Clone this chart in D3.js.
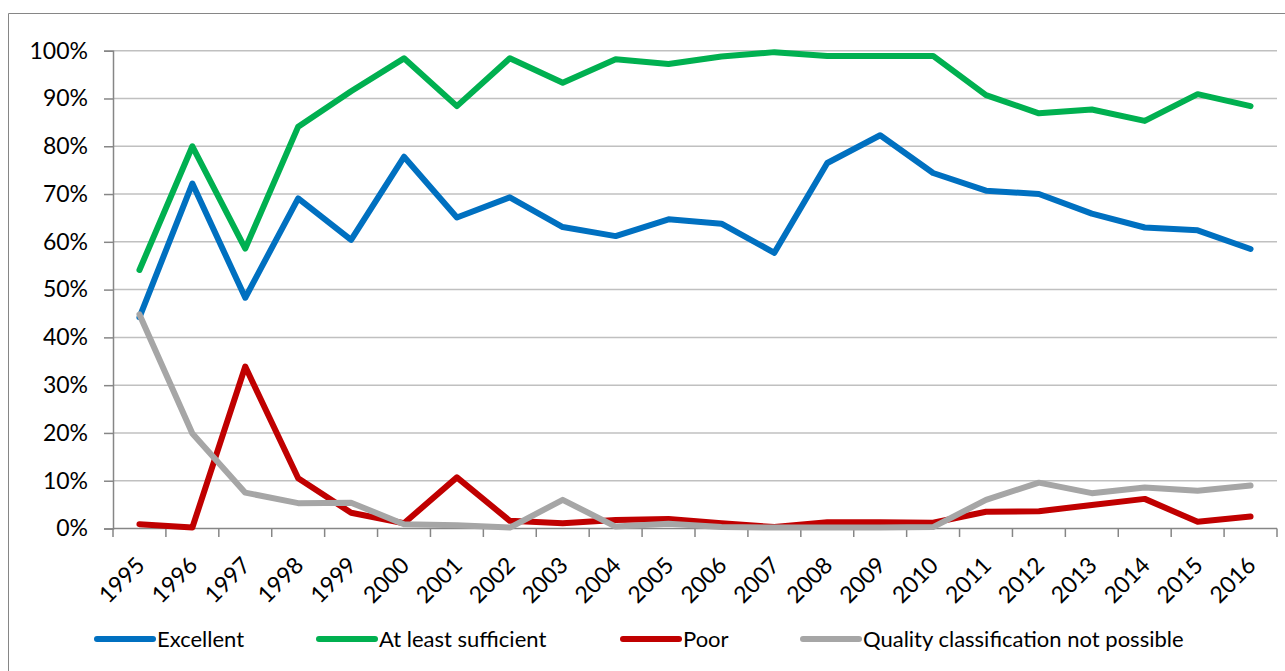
<!DOCTYPE html>
<html>
<head>
<meta charset="utf-8">
<script src="https://cdn.jsdelivr.net/npm/d3@7"></script>
<style>
  html, body { margin: 0; padding: 0; background: #fff; }
  svg { display: block; }
  text { font-family: Lato, "Open Sans", sans-serif; fill: #000; }
</style>
</head>
<body>
<svg id="chart" width="1285" height="671"></svg>
<script>
const years = ["1995","1996","1997","1998","1999","2000","2001","2002","2003","2004","2005",
               "2006","2007","2008","2009","2010","2011","2012","2013","2014","2015","2016"];
const excellent = [44.2, 72.2, 48.3, 69.1, 60.4, 77.8, 65.1, 69.3, 63.1, 61.2, 64.7,
                   63.8, 57.7, 76.5, 82.3, 74.4, 70.7, 70.0, 65.9, 63.0, 62.4, 58.5];
const sufficient = [54.1, 80.0, 58.6, 84.1, 91.5, 98.4, 88.4, 98.4, 93.3, 98.2, 97.2,
                    98.8, 99.7, 98.9, 98.9, 98.9, 90.7, 86.9, 87.7, 85.3, 90.9, 88.4];
const poor = [0.9, 0.2, 33.9, 10.5, 3.3, 1.1, 10.7, 1.6, 1.1, 1.8, 2.0,
              1.1, 0.3, 1.3, 1.3, 1.2, 3.5, 3.6, 4.9, 6.2, 1.4, 2.5];
const notPossible = [44.8, 19.9, 7.5, 5.3, 5.4, 0.9, 0.7, 0.2, 6.0, 0.4, 1.0,
                     0.3, 0.2, 0.2, 0.2, 0.3, 6.0, 9.6, 7.4, 8.6, 7.9, 9.0];
const yTicks = [0, 10, 20, 30, 40, 50, 60, 70, 80, 90, 100];
const seriesNames = ["Excellent", "At least sufficient", "Poor", "Quality classification not possible"];
const seriesColors = ["#0070C0", "#00B050", "#C00000", "#A6A6A6"];
const seriesValues = [excellent, sufficient, poor, notPossible];

const svg = d3.select("#chart");
const AXIS_FONT = 23;
const LEG_FONT = 22;

// outer chart frame (only left and top edges visible)
svg.append("line").attr("x1", 8.5).attr("x2", 8.5).attr("y1", 13.5).attr("y2", 671)
  .attr("stroke", "#868686").attr("stroke-width", 1);
svg.append("line").attr("x1", 8.5).attr("x2", 1285).attr("y1", 13.5).attr("y2", 13.5)
  .attr("stroke", "#868686").attr("stroke-width", 1);

const x = d3.scaleBand().domain(years).range([113, 1277]).padding(0);
const y = d3.scaleLinear().domain([0, 100]).range([528.5, 50.7]);
const cx = d => x(d) + x.bandwidth() / 2;

// gridlines
svg.append("g").selectAll("line").data(yTicks.filter(t => t > 0)).join("line")
  .attr("x1", 113).attr("x2", 1277)
  .attr("y1", d => y(d)).attr("y2", d => y(d))
  .attr("stroke", "#C0C0C0").attr("stroke-width", 1.5);

// y axis
const yAxis = d3.axisLeft(y).tickValues(yTicks).tickSize(9).tickPadding(16)
  .tickFormat(d => d + "%");
const gy = svg.append("g").attr("transform", "translate(113,0)").call(yAxis);
gy.select(".domain").attr("stroke", "#868686").attr("stroke-width", 1.5);
gy.selectAll(".tick line").attr("stroke", "#868686").attr("stroke-width", 1.5);
gy.selectAll(".tick text").style("font-size", AXIS_FONT + "px").style("font-family", "Lato").attr("fill", "#000");

// x axis line + ticks at band boundaries
svg.append("line").attr("x1", 113).attr("x2", 1277).attr("y1", 528.5).attr("y2", 528.5)
  .attr("stroke", "#868686").attr("stroke-width", 1.5);
const bounds = years.map(d => x(d)).concat([x(years[years.length - 1]) + x.bandwidth()]);
svg.append("g").selectAll("line").data(bounds).join("line")
  .attr("x1", d => d).attr("x2", d => d).attr("y1", 528.5).attr("y2", 537)
  .attr("stroke", "#868686").attr("stroke-width", 1.5);

// x labels rotated
svg.append("g").selectAll("text").data(years).join("text")
  .attr("transform", d => `translate(${cx(d) + 1},${561}) rotate(-45)`)
  .attr("text-anchor", "end").attr("dy", "0.35em")
  .style("font-size", AXIS_FONT + "px")
  .text(d => d);

// lines
const line = d3.line().x((v, i) => cx(years[i])).y(v => y(v));
seriesValues.forEach((vals, k) => {
  svg.append("path").datum(vals)
    .attr("d", line)
    .attr("fill", "none")
    .attr("stroke", seriesColors[k])
    .attr("stroke-width", 6)
    .attr("stroke-linecap", "round")
    .attr("stroke-linejoin", "round");
});

// legend
const legendX = [97, 319, 623, 803];
const legY = 639;
const lg = svg.append("g");
seriesNames.forEach((name, k) => {
  lg.append("line").attr("x1", legendX[k]).attr("x2", legendX[k] + 56)
    .attr("y1", legY).attr("y2", legY)
    .attr("stroke", seriesColors[k]).attr("stroke-width", 6).attr("stroke-linecap", "round");
  lg.append("text").attr("x", legendX[k] + 60).attr("y", legY).attr("dy", "0.35em")
    .style("font-size", LEG_FONT + "px").text(name);
});
</script>
</body>
</html>
